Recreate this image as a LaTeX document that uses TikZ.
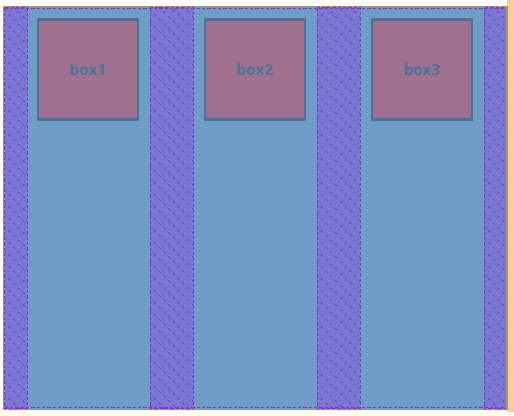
\documentclass[tikz,border=0pt]{standalone}
\usepackage{fontspec}
\setsansfont{Open Sans}
\usetikzlibrary{positioning}

\definecolor{colblue}{RGB}{111,157,200}
\definecolor{colgap}{RGB}{121,120,208}
\definecolor{colhatch}{RGB}{138,43,226}
\definecolor{colbox}{RGB}{160,112,143}
\definecolor{colline}{RGB}{74,115,153}
\definecolor{colframe}{RGB}{168,146,95}
\definecolor{colpeach}{RGB}{255,204,153}

\begin{document}
\begin{tikzpicture}[
        %Environment config
        x=0.75pt,y=-0.75pt,
        font=\sffamily\bfseries,
        %Environment styles
        BoxCfg/.style={
            draw=colline,
            line width=2.2pt,
            fill=colbox,
            text=colline,
            minimum width=75pt,
            minimum height=75pt,
            inner sep=0pt,
            font=\sffamily\bfseries\fontsize{11.5}{13}\selectfont
        },
        GapCfg/.style={
            fill=colgap,
            draw=colhatch,
            dashed,
            dash pattern=on 2.5pt off 1.5pt,
            line width=0.5pt
        }
    ]
    \useasboundingbox (0,0) rectangle (514,415);

    %peach strip at the right edge
    \fill[colpeach] (507,0) rectangle (514,412);

    %container
    \fill[colblue] (4,7) rectangle (507,409);

    %gaps between the columns
    \foreach \xa/\xb in {4.5/27,150/193,317/360,484/506.5}{
        \path[GapCfg] (\xa,7.5) rectangle (\xb,408.5);
        \begin{scope}
            \clip (\xa,7.5) rectangle (\xb,408.5);
            \foreach \s in {-60,-48,...,460}
                \draw[colhatch,line width=0.6pt,dash pattern=on 2pt off 3pt]
                    (\xa-10,\s) -- ++(460,460);
        \end{scope}
    }

    %container border
    \draw[colhatch,line width=0.5pt,dash pattern=on 2.5pt off 1.5pt]
        (4.5,8.5) -- (506.5,8.5)
        (4.5,407.5) -- (506.5,407.5);
    \draw[colframe,line width=1.1pt] (3.5,6.5) rectangle (507,409.5);

    %boxes
    \path
        (88,69.5) node[BoxCfg](box1){box1}
        (255,69.5) node[BoxCfg](box2){box2}
        (422,69.5) node[BoxCfg](box3){box3};

\end{tikzpicture}
\end{document}
